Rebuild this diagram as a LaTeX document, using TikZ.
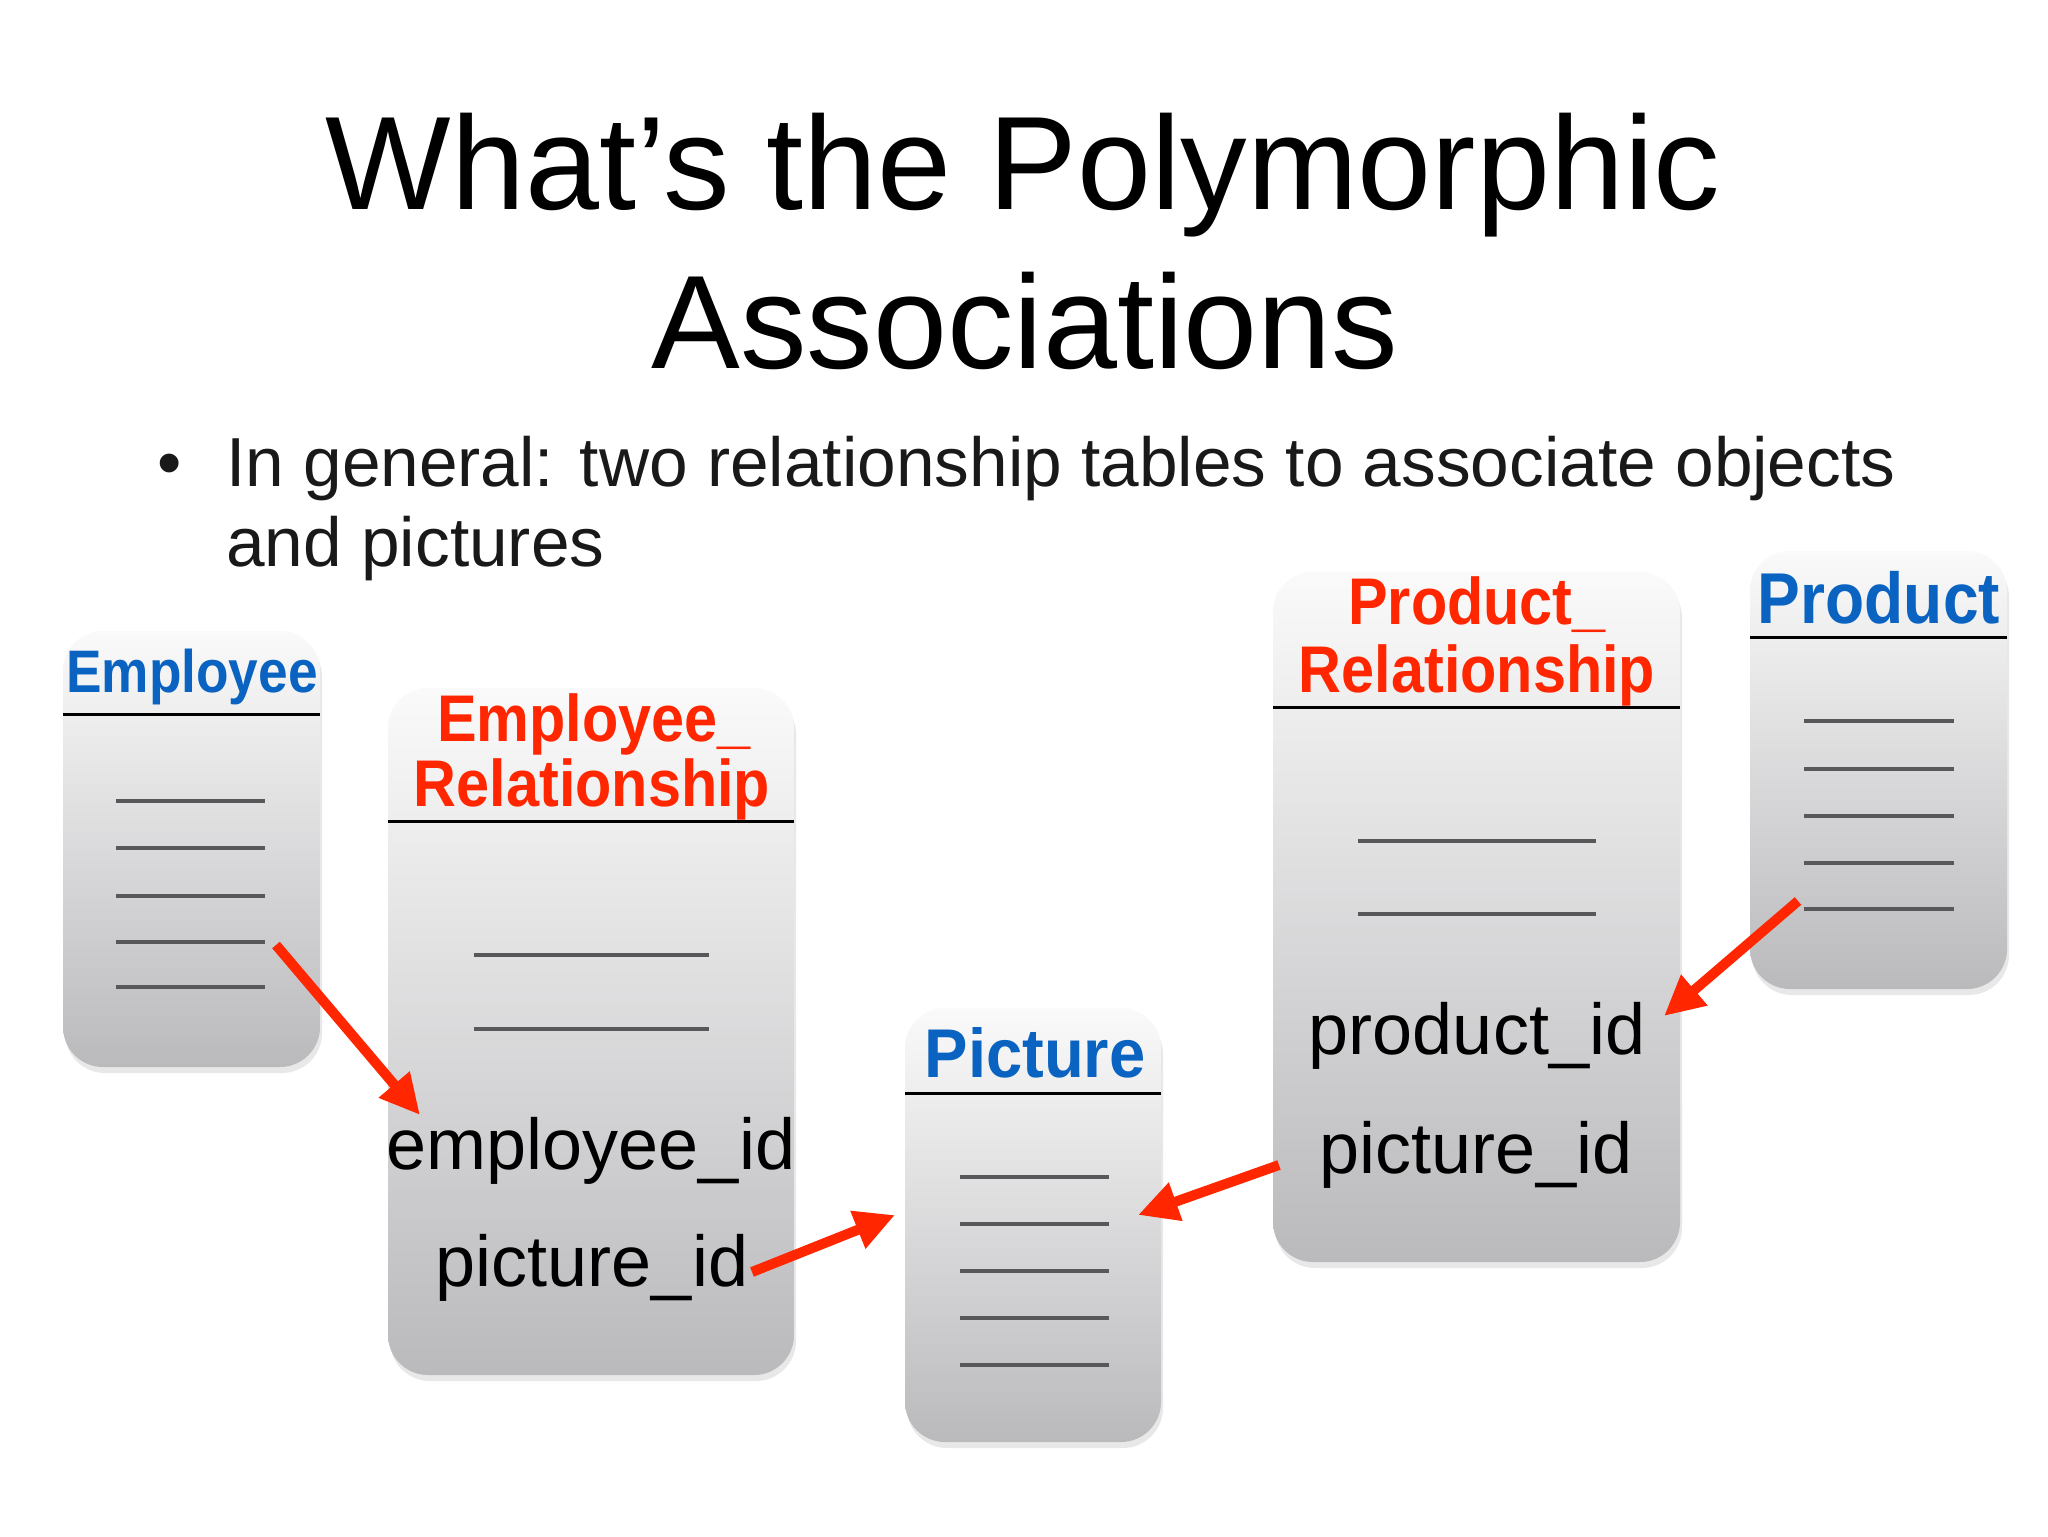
\documentclass[tikz,border=0pt]{standalone}
\usepackage{fontspec}
\setmainfont{Liberation Sans}
\usetikzlibrary{arrows.meta,shadows,fit}
\definecolor{tblue}{RGB}{10,99,192}
\definecolor{tred}{RGB}{255,38,0}
\definecolor{rowgray}{RGB}{88,88,90}
\definecolor{boxtop}{RGB}{250,250,250}
\definecolor{boxbot}{RGB}{186,186,189}
\tikzset{
  tbl/.style={rounded corners=20pt, top color=boxtop, bottom color=boxbot,
    draw=none, inner sep=0pt,
    drop shadow={opacity=0.18, shadow xshift=1pt, shadow yshift=-3pt}},
  hdr/.style={line width=1.5pt, black},
  row/.style={line width=1.8pt, rowgray},
  link/.style={line width=5pt, tred, -{Triangle[length=20pt,width=19pt]}},
  bluet/.style={anchor=base, inner sep=0pt, text=tblue, font=\bfseries},
  redt/.style={anchor=base, inner sep=0pt, text=tred, font=\bfseries\fontsize{33}{36}\selectfont},
  fld/.style={anchor=base, inner sep=0pt, text=black, font=\fontsize{36}{40}\selectfont},
  ttl/.style={anchor=base, inner sep=0pt, text=black, font=\fontsize{66.5}{80}\selectfont},
  bul/.style={inner sep=0pt, text=black!90, font=\fontsize{34.7}{40}\selectfont},
}
\begin{document}
\begin{tikzpicture}[x=0.5pt,y=-0.5pt]
\useasboundingbox[fill=white] (0,0) rectangle (2048,1536);

% title
\node[ttl] (t1) at (1023,209) {What’s the Polymorphic};
\node[ttl] (t2) at (1025,368) {Associations};
\node[bul, anchor=base] (dot) at (170,486) {•};
\node[bul, anchor=base west] (b1) at (226,486) {In general: two relationship tables to associate objects};
\node[bul, anchor=base west] (b2) at (226,566) {and pictures};

% Employee
\node[tbl, fit={(63,631) (320,1067)}] (emp) {};
\draw[hdr] (63,714) -- (320,714);
\foreach \y in {801,848,896,942,987} \draw[row] (116,\y) -- (265,\y);
\node[bluet, font=\bfseries\fontsize{30}{34}\selectfont] (empt) at (192,692) {\scalebox{0.887}[1]{Employee}};

% Employee_Relationship
\node[tbl, fit={(388,688) (794,1375)}] (er) {};
\draw[hdr] (388,821) -- (794,821);
\foreach \y in {955,1029} \draw[row] (474,\y) -- (709,\y);
\node[redt] (ert1) at (594,741) {\scalebox{0.9}[1]{Employee\_}};
\node[redt] (ert2) at (592,806) {\scalebox{0.9}[1]{Relationship}};
\node[fld] (empid) at (591,1169) {employee\_id};
\node[fld] (erpic) at (592,1286) {picture\_id};

% Picture
\node[tbl, fit={(905,1008) (1161,1442)}] (pic) {};
\draw[hdr] (905,1093) -- (1161,1093);
\foreach \y in {1177,1224,1271,1318,1365} \draw[row] (960,\y) -- (1109,\y);
\node[bluet, font=\bfseries\fontsize{34.5}{38}\selectfont] (pict) at (1035,1077) {\scalebox{0.944}[1]{Picture}};

% Product_Relationship
\node[tbl, fit={(1273,572) (1680,1262)}] (pr) {};
\draw[hdr] (1273,707) -- (1680,707);
\foreach \y in {841,914} \draw[row] (1358,\y) -- (1596,\y);
\node[redt] (prt1) at (1477,624) {\scalebox{0.9}[1]{Product\_}};
\node[redt] (prt2) at (1477,692) {\scalebox{0.9}[1]{Relationship}};
\node[fld] (prodid) at (1477,1054) {product\_id};
\node[fld] (prpic) at (1476,1173) {picture\_id};

% Product
\node[tbl, fit={(1750,551) (2007,989)}] (prod) {};
\draw[hdr] (1750,637) -- (2007,637);
\foreach \y in {721,769,816,863,909} \draw[row] (1804,\y) -- (1954,\y);
\node[bluet, font=\bfseries\fontsize{36}{40}\selectfont] (prodt) at (1879,623) {\scalebox{0.89}[1]{Product}};

% connectors
\coordinate (a1s) at (276,945);
\coordinate (a1e) at (420,1115);
\coordinate (a2s) at (752,1272);
\coordinate (a2e) at (895,1215);
\coordinate (a3s) at (1279,1165);
\coordinate (a3e) at (1138,1215);
\coordinate (a4s) at (1798,901);
\coordinate (a4e) at (1664,1016);
\draw[link] (a1s) -- (a1e);
\draw[link] (a2s) -- (a2e);
\draw[link] (a3s) -- (a3e);
\draw[link] (a4s) -- (a4e);
\end{tikzpicture}
\end{document}
